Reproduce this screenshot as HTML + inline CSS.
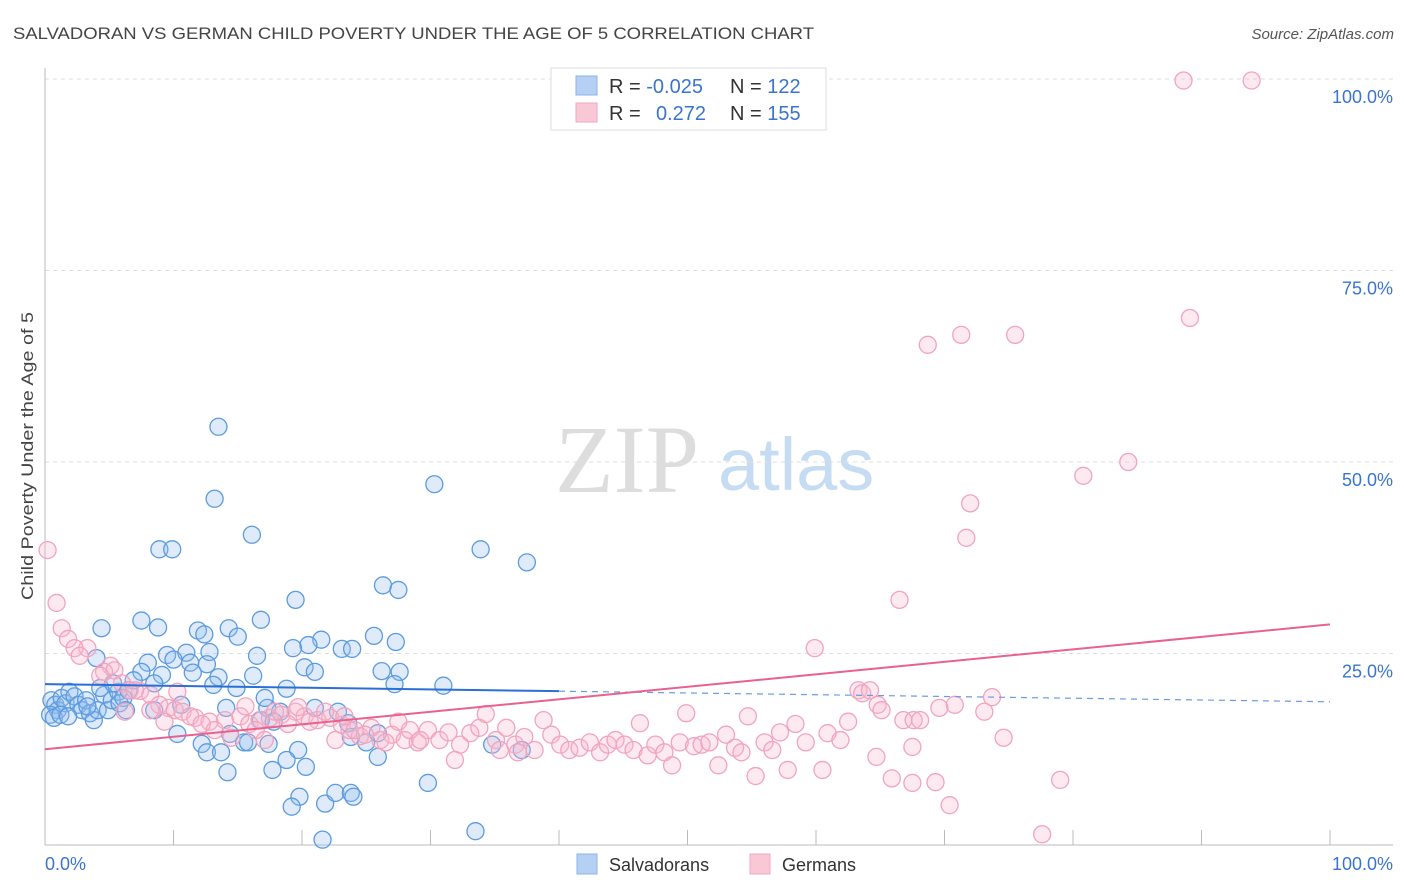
<!DOCTYPE html>
<html><head><meta charset="utf-8"><style>
body{margin:0;background:#fff;font-family:"Liberation Sans",sans-serif;}
svg{display:block}
</style></head><body>
<svg id="chart" width="1406" height="892" xmlns="http://www.w3.org/2000/svg">
<text x="13" y="39" font-size="17" fill="#444" textLength="801" lengthAdjust="spacingAndGlyphs">SALVADORAN VS GERMAN CHILD POVERTY UNDER THE AGE OF 5 CORRELATION CHART</text>
<text x="1394" y="39" font-size="15" fill="#555" font-style="italic" text-anchor="end">Source: ZipAtlas.com</text>
<text transform="translate(33,456) rotate(-90)" font-size="17" fill="#444" text-anchor="middle" textLength="288" lengthAdjust="spacingAndGlyphs">Child Poverty Under the Age of 5</text>
<g>
<text x="555" y="492" font-size="96" font-family="Liberation Serif,serif" fill="#ddd">ZIP</text>
<text x="718" y="490" font-size="74" fill="#c6dcf3">atlas</text>
</g>
<g id="grid"></g><g id="axes"></g><g id="marks"></g><g id="trends"></g>
<g>
<rect x="551" y="68" width="275" height="62" fill="#fff" stroke="#ddd"/>
<rect x="576" y="76" width="21" height="19" fill="#b5d0f2" stroke="#8bb4e6"/>
<rect x="576" y="103" width="21" height="19" fill="#f9c8d7" stroke="#f0a8c0"/>
<text x="609" y="93" font-size="20" fill="#333">R = <tspan fill="#3a74cf">-0.025</tspan></text>
<text x="730" y="93" font-size="20" fill="#333">N = <tspan fill="#3a74cf">122</tspan></text>
<text x="609" y="120" font-size="20" fill="#333">R = <tspan fill="#3a74cf" x="656">0.272</tspan></text>
<text x="730" y="120" font-size="20" fill="#333">N = <tspan fill="#3a74cf">155</tspan></text>
</g>
<g>
<rect x="577" y="854" width="20" height="20" fill="#b5d0f2" stroke="#8bb4e6"/>
<text x="609" y="871" font-size="18" fill="#333">Salvadorans</text>
<rect x="750" y="854" width="20" height="20" fill="#f9c8d7" stroke="#f0a8c0"/>
<text x="782" y="871" font-size="18" fill="#333">Germans</text>
</g>
</svg>
<script>
const yTicks=[100,75,50,25];
const yTickLabels=["100.0%","75.0%","50.0%","25.0%"];
const xTickLabels=["0.0%","100.0%"];
const blueX=[0.5,0.8,1.0,1.3,1.6,1.9,2.3,2.6,2.9,3.2,3.5,3.8,4.1,4.6,4.9,5.2,5.7,5.8,6.1,6.5,0.4,0.7,1.2,1.8,3.3,4.3,6.3,8.5,10.6,14.1,17.3,18.3,21.0,22.8,16.8,17.8,10.3,14.4,23.6,25.9,23.8,15.5,15.8,12.2,17.4,25.0,12.6,13.7,19.7,25.9,37.1,34.8,18.8,17.7,20.3,14.2,29.8,19.8,19.2,21.8,22.6,23.8,24.0,33.5,21.6,13.5,13.2,30.3,16.1,8.9,9.9,33.9,37.5,26.3,27.5,19.5,7.5,16.8,4.4,8.8,11.9,12.4,14.3,15.0,21.5,25.6,27.3,20.5,19.3,23.1,23.9,9.5,11.0,12.8,16.5,4.0,8.0,10.0,11.3,12.6,20.2,21.0,7.5,9.1,11.5,13.5,16.2,26.2,27.6,5.3,6.9,8.5,13.1,14.9,27.2,31.0,18.8,17.1];
const blueY=[18.9,18.3,17.6,19.2,18.5,20.0,19.4,18.3,17.6,18.9,17.2,16.3,17.6,19.6,17.6,18.9,20.0,18.5,19.2,20.2,17.0,16.6,17.0,16.8,18.1,20.5,17.6,17.6,18.3,17.9,17.9,17.4,17.9,17.4,16.3,16.1,14.5,14.5,15.9,14.6,14.1,13.4,13.4,13.2,13.2,13.4,12.1,12.1,12.4,11.5,12.4,13.1,11.1,9.8,10.2,9.5,8.1,6.3,5.0,5.4,6.8,6.8,6.3,1.8,0.7,54.6,45.2,47.1,40.5,38.6,38.6,38.6,36.9,33.9,33.3,32.0,29.3,29.4,28.3,28.4,28.0,27.5,28.3,27.2,26.8,27.3,26.5,26.1,25.7,25.6,25.6,24.8,25.1,25.2,24.7,24.4,23.8,24.2,23.8,23.6,23.2,22.6,22.6,22.2,22.5,21.9,22.1,22.7,22.6,21.1,21.5,21.1,20.9,20.5,21.0,20.8,20.4,19.2];
const pinkX=[0.2,0.9,1.3,1.8,3.3,2.3,2.7,5.1,4.6,5.4,6.0,6.6,7.4,8.2,8.9,9.6,10.1,10.7,11.7,12.8,14.0,15.2,15.9,16.7,17.5,18.4,19.5,20.2,21.2,22.2,23.1,23.7,24.5,25.4,26.1,27.0,28.0,29.0,29.8,30.7,31.4,32.3,33.1,33.8,34.3,35.1,35.9,36.6,37.3,38.1,38.8,39.4,40.1,40.8,41.6,42.4,43.2,43.8,44.4,45.1,45.8,46.3,46.9,47.5,48.2,48.8,49.4,49.9,50.5,51.1,51.7,52.4,53.0,53.7,54.2,54.7,55.3,56.0,56.6,57.2,57.8,58.4,59.2,59.9,60.5,60.9,61.9,62.5,63.3,63.6,64.2,64.8,65.1,65.9,66.5,66.8,67.5,67.6,68.1,68.7,69.3,69.6,70.4,70.8,71.3,72.0,71.7,73.1,73.7,74.6,75.5,77.6,79.0,80.8,84.3,88.6,89.1,93.9,4.3,6.2,7.0,8.2,9.3,10.3,11.3,12.2,13.2,14.5,15.6,16.4,17.1,17.9,18.9,19.7,20.6,21.8,22.6,23.3,24.1,24.9,26.5,27.5,28.4,29.2,31.9,35.4,36.8,64.7,67.5];
const pinkY=[38.5,31.6,28.3,26.9,25.7,25.7,24.7,23.4,22.6,22.8,21.1,20.2,20.1,19.6,18.3,17.9,17.6,17.4,16.6,16.1,16.3,16.8,15.8,16.3,16.6,17.0,17.4,16.8,16.3,16.6,15.7,15.0,14.2,15.3,13.7,14.4,13.7,13.4,15.0,13.7,14.7,13.1,14.6,15.3,17.1,13.7,15.3,13.1,14.1,12.4,16.3,14.4,13.1,12.4,12.7,13.4,12.1,13.1,13.7,13.1,12.4,15.9,11.7,13.1,12.1,10.4,13.4,17.2,12.9,13.1,13.4,10.4,14.4,12.7,12.1,16.8,9.0,13.4,12.4,14.7,9.8,15.8,13.4,25.7,9.8,14.6,13.7,16.1,20.2,19.8,20.2,18.3,17.6,8.7,32.0,16.3,8.1,16.3,16.3,65.3,8.2,17.9,5.2,18.3,66.6,44.6,40.1,17.4,19.3,14.0,66.6,1.4,8.5,48.2,50.0,99.8,68.8,99.8,22.1,17.4,20.2,17.6,16.1,20.0,16.8,15.8,15.0,14.0,18.1,15.0,13.7,17.4,15.8,18.0,16.1,17.4,13.7,16.8,15.0,14.4,13.4,16.1,15.0,13.7,11.1,12.4,12.1,11.5,12.8];
const blueTrend=[21.0,18.7]; // y at x=0 and x=100
const pinkTrend=[12.5,28.8];
const NS="http://www.w3.org/2000/svg";
const X0=45,X1=1330,Y0=845,Y1=79;
const sx=v=>X0+(X1-X0)*v/100, sy=v=>Y0-(Y0-Y1)*v/100;
function mk(t,a,p){const e=document.createElementNS(NS,t);for(const k in a)e.setAttribute(k,a[k]);p.appendChild(e);return e;}
const grid=document.getElementById('grid'),axes=document.getElementById('axes'),marks=document.getElementById('marks'),trends=document.getElementById('trends');
yTicks.forEach((t,i)=>{
 const l=mk('line',{x1:X0,x2:1393,y1:sy(t),y2:sy(t),stroke:'#ddd','stroke-dasharray':'4,4'},grid);
 
 
 const tx=mk('text',{x:1393,y:sy(t)+24,'font-size':18,fill:'#3a74cf','text-anchor':'end'},axes);
 tx.textContent=yTickLabels[i];
 
 
});
const ax=mk('line',{x1:X0,x2:1393,y1:Y0,y2:Y0,stroke:'#bbb'},axes);


const ay=mk('line',{x1:X0,x2:X0,y1:68,y2:Y0,stroke:'#bbb'},axes);


for(let i=0;i<=10;i++){
 const tk=mk('line',{x1:sx(i*10),x2:sx(i*10),y1:Y0-15,y2:Y0,stroke:'#bbb'},axes);
 
 
}
[[0,'start',45],[100,'end',1393]].forEach(([v,a,x],i)=>{
 const t=mk('text',{x:x,y:870,'font-size':18,fill:'#3a74cf','text-anchor':a},axes);
 t.textContent=xTickLabels[i];
 
 
});
blueX.forEach((v,i)=>{
 const c=mk('circle',{cx:sx(v),cy:sy(blueY[i]),r:8.5,fill:'rgba(150,190,240,0.3)',stroke:'#5b9be0','stroke-width':1.3},marks);
 
 
});
pinkX.forEach((v,i)=>{
 const c=mk('circle',{cx:sx(v),cy:sy(pinkY[i]),r:8.5,fill:'rgba(248,185,205,0.3)',stroke:'#f2a3be','stroke-width':1.3},marks);
 
 
});
const bAt=x=>blueTrend[0]+(blueTrend[1]-blueTrend[0])*x/100;
const b1=mk('line',{x1:sx(0),y1:sy(bAt(0)),x2:sx(40),y2:sy(bAt(40)),stroke:'#2a6fd6','stroke-width':2},trends);


const b2=mk('line',{x1:sx(40),y1:sy(bAt(40)),x2:sx(100),y2:sy(bAt(100)),stroke:'#6a9be0','stroke-width':1.2,'stroke-dasharray':'6,5'},trends);


const p1=mk('line',{x1:sx(0),y1:sy(pinkTrend[0]),x2:sx(100),y2:sy(pinkTrend[1]),stroke:'#e8628f','stroke-width':2},trends);


</script>
</body></html>
